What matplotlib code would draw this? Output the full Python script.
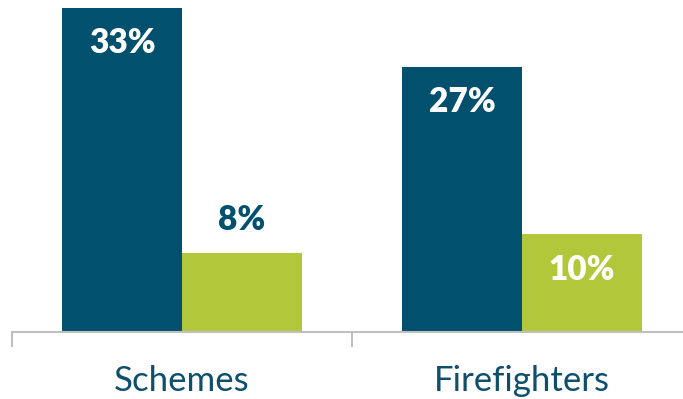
import matplotlib.pyplot as plt
import numpy as np

categories = ['Schemes', 'Firefighters']
series_a = [33, 27]   # dark blue
series_b = [8, 10]    # green
label_a = ['33%', '27%']
label_b = ['8%', '10%']

DARK = '#00506E'
GREEN = '#B2C83A'
FONT = 'Lato'

fig = plt.figure(figsize=(6.83, 3.99), dpi=100)
# axes spans x pixels 12..692, y pixels 8..332 (from top)
ax = fig.add_axes([12 / 683, (399 - 332) / 399, 680 / 683, 324 / 399])

x = np.arange(len(categories))
w = 0.353
ax.bar(x - w / 2, series_a, w, color=DARK)
ax.bar(x + w / 2, series_b, w, color=GREEN)

ax.set_xlim(-0.5, 1.5)
ax.set_ylim(0, 33)

px = 33 / 324  # data units per pixel
for xi, v, t in zip(x, series_a, label_a):
    ax.text(xi - w / 2, v - 35 * px, t, ha='center', va='center', color='white',
            fontsize=24, fontweight='heavy', family=FONT)
for xi, v, t in zip(x, series_b, label_b):
    if v < 9:
        ax.text(xi + w / 2, v + 33 * px, t, ha='center', va='center', color=DARK,
                fontsize=24, fontweight='heavy', family=FONT)
    else:
        ax.text(xi + w / 2, v - 36 * px, t, ha='center', va='center', color='white',
                fontsize=24, fontweight='heavy', family=FONT)

for s in ['top', 'right', 'left']:
    ax.spines[s].set_visible(False)
ax.spines['bottom'].set_color('#BFBFBF')
ax.spines['bottom'].set_linewidth(1.5)
ax.set_yticks([])
ax.set_xticks([-0.5, 0.5, 1.5])
ax.set_xticklabels([])
ax.tick_params(axis='x', length=11, width=1.5, color='#BFBFBF')
ax.set_xticks(x, minor=True)
ax.set_xticklabels(categories, minor=True, fontsize=25, color='#0E4F6E', family=FONT)
ax.tick_params(axis='x', which='minor', length=0, pad=24)

fig.savefig('out.png', dpi=100)
